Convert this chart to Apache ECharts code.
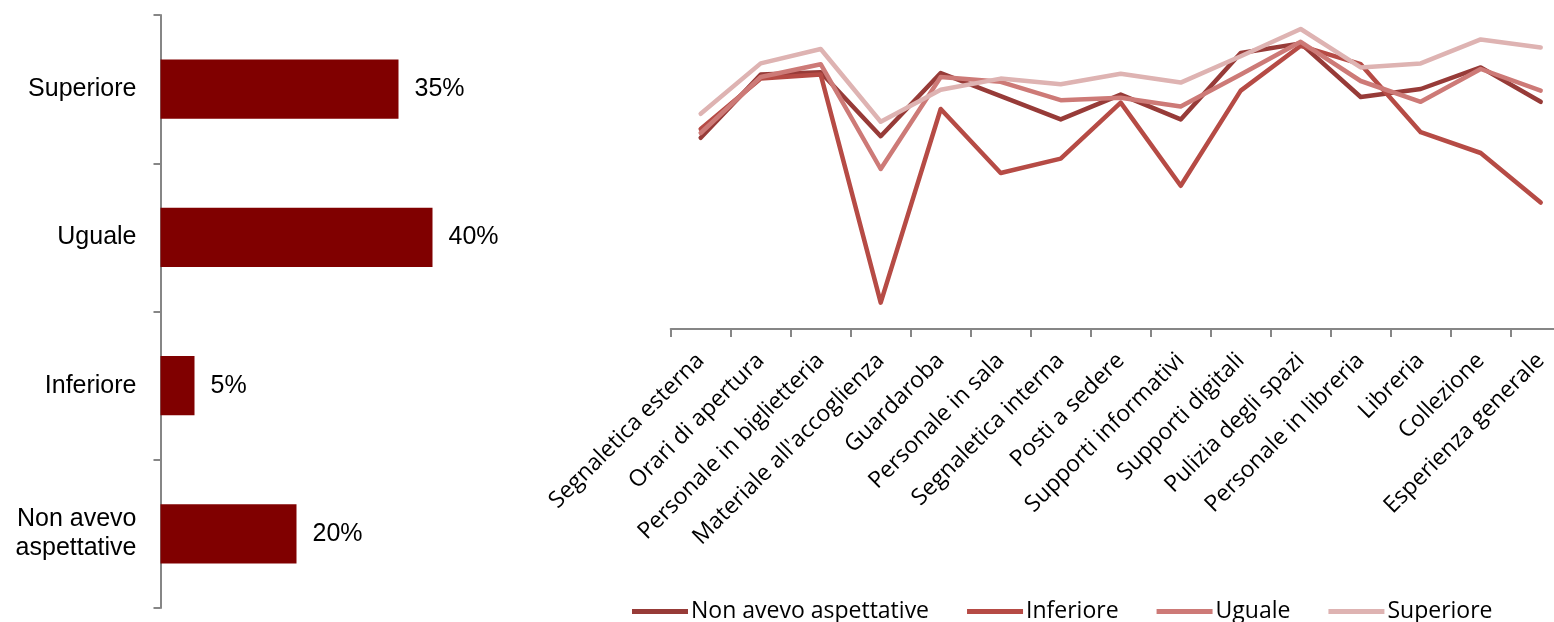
<!DOCTYPE html>
<html>
<head>
<meta charset="utf-8">
<style>
  html, body { margin: 0; padding: 0; background: #ffffff; }
  #chart { width: 1554px; height: 622px; }
</style>
<script src="https://cdn.jsdelivr.net/npm/echarts@6/dist/echarts.min.js"></script>
</head>
<body>
<div id="chart"></div>
<script>
// Expectation compared with the visit (share of respondents, %)
const expectationCategories = ['Superiore', 'Uguale', 'Inferiore', 'Non avevo\naspettative'];
const expectationShares = [35, 40, 5, 20];

// Satisfaction by service aspect, split by expectation group
const aspects = [
  'Segnaletica esterna', 'Orari di apertura', 'Personale in biglietteria',
  "Materiale all'accoglienza", 'Guardaroba', 'Personale in sala',
  'Segnaletica interna', 'Posti a sedere', 'Supporti informativi',
  'Supporti digitali', 'Pulizia degli spazi', 'Personale in libreria',
  'Libreria', 'Collezione', 'Esperienza generale'
];
const nonAvevo  = [7.39, 8.18, 8.21, 7.41, 8.20, 7.91, 7.62, 7.93, 7.62, 8.45, 8.57, 7.90, 8.00, 8.27, 7.84];
const inferiore = [7.50, 8.13, 8.18, 5.33, 7.75, 6.95, 7.13, 7.83, 6.79, 7.98, 8.54, 8.31, 7.46, 7.20, 6.58];
const uguale    = [7.45, 8.15, 8.31, 7.00, 8.15, 8.09, 7.86, 7.89, 7.78, 8.18, 8.59, 8.10, 7.84, 8.25, 7.98];
const superiore = [7.69, 8.32, 8.50, 7.59, 7.99, 8.13, 8.06, 8.19, 8.08, 8.41, 8.75, 8.27, 8.32, 8.62, 8.52];

const lineSeries = [
  { name: 'Non avevo aspettative', data: nonAvevo,  color: '#973b38' },
  { name: 'Inferiore',             data: inferiore, color: '#b64b45' },
  { name: 'Uguale',                data: uguale,    color: '#cd7a77' },
  { name: 'Superiore',             data: superiore, color: '#deb3b2' }
];

const axisGrey = '#868686';

const chart = echarts.init(document.getElementById('chart'), null, { renderer: 'canvas' });

chart.setOption({
  animation: false,
  backgroundColor: '#ffffff',
  grid: [
    { left: 160.5, top: 15, width: 340, height: 593, outerBoundsMode: 'none' },
    // the category axis runs a little past the right edge of the canvas
    { left: 670.7, width: 900, top: 9, height: 320, outerBoundsMode: 'none', containLabel: false }
  ],
  xAxis: [
    {
      gridIndex: 0, type: 'value', min: 0, max: 50, show: false
    },
    {
      gridIndex: 1, type: 'category', data: aspects, boundaryGap: true,
      axisLine: { show: true, lineStyle: { color: axisGrey, width: 2 } },
      axisTick: { show: true, length: 8, lineStyle: { color: axisGrey, width: 2 } },
      axisLabel: {
        rotate: 45, interval: 0, margin: 28,
        fontFamily: 'Open Sans', fontSize: 23, color: '#000000'
      },
      splitLine: { show: false }
    }
  ],
  yAxis: [
    {
      gridIndex: 0, type: 'category', data: expectationCategories, inverse: true,
      axisLine: { show: true, lineStyle: { color: axisGrey, width: 2 } },
      axisTick: { show: true, length: 7, lineStyle: { color: axisGrey, width: 2 } },
      axisLabel: {
        margin: 24, fontFamily: 'Liberation Sans', fontSize: 25,
        color: '#000000', lineHeight: 29, align: 'right'
      }
    },
    {
      gridIndex: 1, type: 'value', min: 5, max: 9, show: false
    }
  ],
  legend: {
    data: lineSeries.map(s => s.name),
    left: 627, top: 595,
    icon: 'rect', itemWidth: 56, itemHeight: 5, itemGap: 38,
    textStyle: { fontFamily: 'Open Sans', fontSize: 23, color: '#000000', padding: [0, 0, 0, -2] }
  },
  series: [
    {
      type: 'bar',
      xAxisIndex: 0, yAxisIndex: 0,
      data: expectationShares,
      barCategoryGap: '60%',
      itemStyle: { color: '#800000' },
      label: {
        show: true, position: 'right', distance: 16,
        formatter: p => p.value + '%',
        fontFamily: 'Liberation Sans', fontSize: 25, color: '#000000'
      }
    },
    ...lineSeries.map(s => ({
      type: 'line',
      name: s.name,
      xAxisIndex: 1, yAxisIndex: 1,
      data: s.data,
      symbol: 'none',
      color: s.color,
      lineStyle: { color: s.color, width: 4.5, cap: 'round', join: 'round' }
    }))
  ]
});
</script>
</body>
</html>
